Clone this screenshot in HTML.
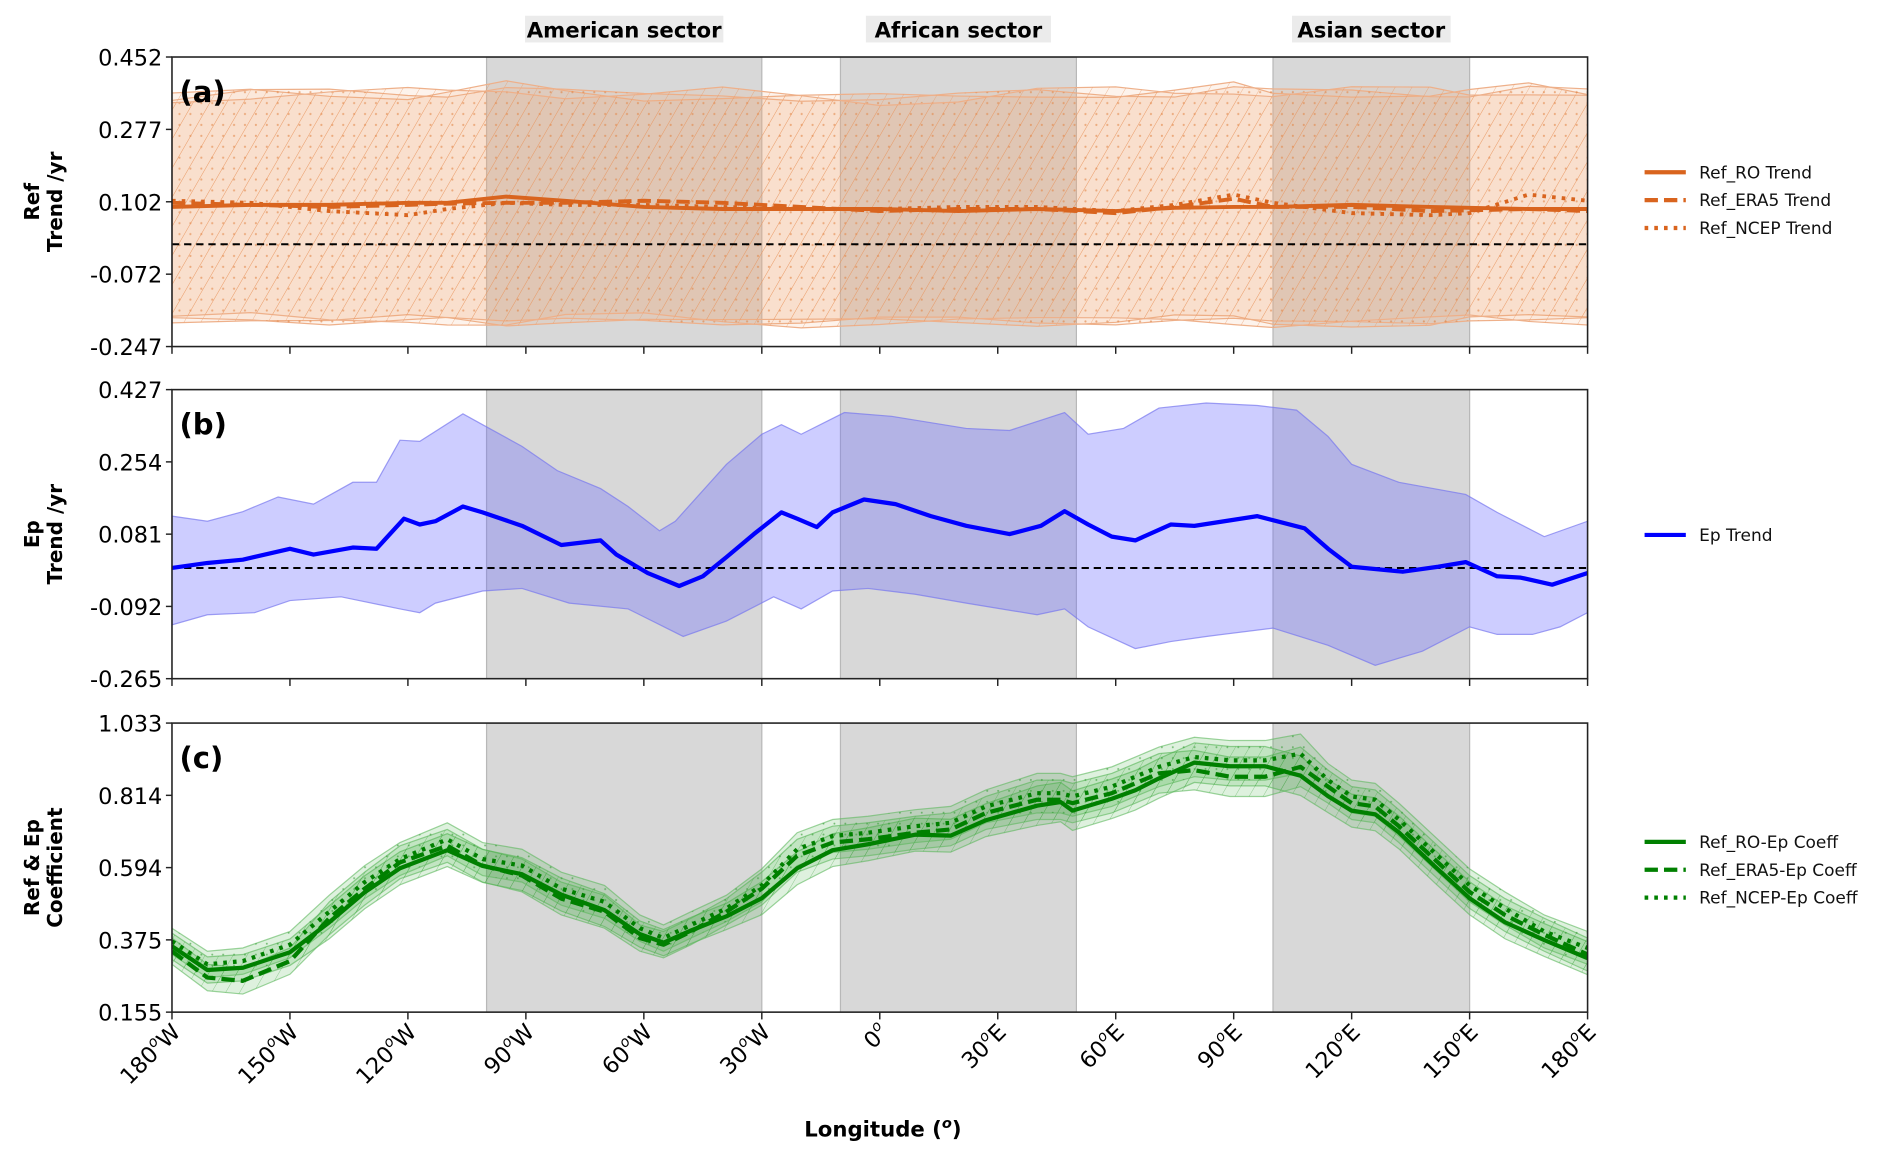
<!DOCTYPE html>
<html><head><meta charset="utf-8"><style>
html,body{margin:0;padding:0;background:#fff;}
svg{display:block;font-family:"DejaVu Sans","Liberation Sans",sans-serif;}
</style></head><body>
<svg id="chart" width="1892" height="1156" viewBox="0 0 1560 953" preserveAspectRatio="none" xmlns="http://www.w3.org/2000/svg">
<defs>
<pattern id="hatchO" patternUnits="userSpaceOnUse" width="12" height="12" patternTransform="rotate(30)"><line x1="0" y1="0" x2="0" y2="12" stroke="#e8925a" stroke-width="0.7" opacity="0.7"/></pattern>
<pattern id="dotsO" patternUnits="userSpaceOnUse" width="9" height="9"><circle cx="4" cy="4" r="0.9" fill="#e08040" opacity="0.6"/></pattern>
<pattern id="hatchG" patternUnits="userSpaceOnUse" width="10" height="10" patternTransform="rotate(30)"><line x1="0" y1="0" x2="0" y2="10" stroke="#2e9a2e" stroke-width="0.6" opacity="0.6"/></pattern>
<pattern id="dotsG" patternUnits="userSpaceOnUse" width="9" height="9"><circle cx="4" cy="4" r="0.8" fill="#2e9a2e" opacity="0.6"/></pattern>
</defs>
</svg>
<script>
// ---- data ----
const SECTORS = [[-100,-30,'American sector'],[-10,50,'African sector'],[100,150,'Asian sector']];
const XTICKS = [-180,-150,-120,-90,-60,-30,0,30,60,90,120,150,180];
const XTICK_LABELS = ['180','150','120','90','60','30','0','30','60','90','120','150','180'];
const XTICK_SUFFIX = ['W','W','W','W','W','W','','E','E','E','E','E','E'];
const TICKS_A = ['0.452','0.277','0.102','-0.072','-0.247'];
const TICKS_B = ['0.427','0.254','0.081','-0.092','-0.265'];
const TICKS_C = ['1.033','0.814','0.594','0.375','0.155'];

const LON_A = [-180,-160,-140,-120,-110,-95,-80,-60,-40,-20,0,20,40,60,75,90,100,120,140,150,165,180];
const REF_RO   = [0.090,0.095,0.095,0.100,0.100,0.115,0.105,0.090,0.085,0.085,0.085,0.080,0.085,0.080,0.088,0.090,0.090,0.095,0.090,0.088,0.085,0.085];
const REF_ERA5 = [0.100,0.095,0.090,0.095,0.098,0.100,0.100,0.105,0.100,0.090,0.080,0.085,0.085,0.075,0.090,0.110,0.090,0.090,0.080,0.082,0.085,0.080];
const REF_NCEP = [0.105,0.100,0.080,0.070,0.085,0.100,0.095,0.095,0.090,0.085,0.085,0.090,0.090,0.080,0.095,0.120,0.100,0.075,0.070,0.075,0.120,0.105];
const REF_UP   = [0.35,0.37,0.37,0.36,0.36,0.38,0.37,0.36,0.36,0.35,0.35,0.36,0.37,0.36,0.36,0.38,0.37,0.37,0.36,0.36,0.38,0.37];
const REF_LO   = [-0.18,-0.18,-0.19,-0.18,-0.18,-0.19,-0.18,-0.18,-0.19,-0.19,-0.18,-0.18,-0.19,-0.19,-0.18,-0.18,-0.19,-0.19,-0.19,-0.18,-0.18,-0.18];

const LON_B = [-180,-171,-162,-150,-144,-134,-128,-121,-117,-113,-106,-101,-91,-81,-71,-67,-59,-51,-45,-39,-32,-25,-21,-16,-12,-4,4,13,22,33,41,47,53,59,65,74,80,96,108,114,120,133,142,149,157,163,171,180];
const EP = [0.000,0.012,0.020,0.046,0.032,0.049,0.046,0.118,0.104,0.112,0.147,0.133,0.101,0.055,0.066,0.032,-0.012,-0.043,-0.020,0.026,0.081,0.133,0.118,0.098,0.133,0.164,0.153,0.124,0.101,0.081,0.101,0.136,0.104,0.075,0.066,0.104,0.101,0.124,0.095,0.046,0.003,-0.009,0.003,0.014,-0.020,-0.023,-0.040,-0.012];
const LON_BU = [-180,-171,-162,-153,-144,-134,-128,-122,-117,-106,-101,-91,-82,-71,-64,-56,-52,-39,-30,-25,-20,-9,3,22,33,47,53,62,71,83,96,106,114,120,132,149,157,169,180];
const EP_UP = [0.124,0.112,0.135,0.170,0.153,0.205,0.205,0.306,0.303,0.369,0.343,0.291,0.233,0.190,0.147,0.089,0.112,0.248,0.320,0.343,0.320,0.372,0.363,0.334,0.329,0.372,0.320,0.334,0.383,0.395,0.389,0.378,0.315,0.248,0.205,0.176,0.133,0.075,0.112];
const LON_BL = [-180,-171,-159,-150,-137,-122,-117,-113,-101,-91,-79,-64,-50,-39,-27,-20,-12,-3,9,22,40,47,53,65,74,83,100,114,126,138,150,157,166,173,180];
const EP_LO = [-0.136,-0.112,-0.107,-0.078,-0.069,-0.098,-0.107,-0.084,-0.055,-0.049,-0.084,-0.098,-0.164,-0.127,-0.069,-0.098,-0.055,-0.049,-0.063,-0.084,-0.112,-0.098,-0.141,-0.193,-0.176,-0.164,-0.144,-0.185,-0.233,-0.199,-0.141,-0.159,-0.159,-0.141,-0.107];

const LON_C = [-180,-171,-162,-150,-140,-131,-122,-110,-101,-91,-81,-70,-61,-55,-48,-39,-30,-21,-12,-3,9,18,27,40,46,49,59,65,71,80,89,98,107,114,120,126,132,141,150,159,169,180];
const CO_RO   = [0.355,0.283,0.290,0.337,0.428,0.519,0.592,0.647,0.599,0.574,0.512,0.465,0.392,0.366,0.403,0.446,0.501,0.592,0.647,0.665,0.694,0.691,0.738,0.782,0.793,0.767,0.803,0.829,0.865,0.913,0.902,0.902,0.873,0.811,0.767,0.756,0.701,0.599,0.501,0.428,0.374,0.319];
const CO_ERA5 = [0.340,0.260,0.250,0.310,0.440,0.530,0.610,0.660,0.600,0.570,0.500,0.460,0.380,0.360,0.400,0.460,0.530,0.630,0.670,0.680,0.700,0.710,0.760,0.800,0.800,0.790,0.820,0.850,0.880,0.890,0.870,0.870,0.900,0.840,0.790,0.780,0.720,0.620,0.520,0.450,0.390,0.330];
const CO_NCEP = [0.370,0.300,0.310,0.360,0.460,0.550,0.620,0.680,0.620,0.600,0.530,0.490,0.410,0.380,0.420,0.470,0.540,0.650,0.690,0.700,0.720,0.730,0.780,0.820,0.820,0.810,0.840,0.870,0.900,0.930,0.920,0.920,0.940,0.860,0.810,0.800,0.740,0.640,0.540,0.470,0.400,0.350];
const CO_SPREAD = [0.04,0.04,0.04,0.04,0.05,0.05,0.05,0.05,0.05,0.05,0.05,0.05,0.04,0.04,0.04,0.04,0.05,0.05,0.05,0.05,0.05,0.05,0.05,0.06,0.06,0.06,0.06,0.06,0.06,0.06,0.06,0.06,0.06,0.05,0.05,0.05,0.05,0.05,0.05,0.05,0.05,0.05];

// ---- layout ----
const NS='http://www.w3.org/2000/svg';
const svg=document.getElementById('chart');
const X0=141.8,X1=1309;
const xs=l=>X0+(l+180)/360*(X1-X0);
const panels=[
 {id:'a',top:47,bot:285.7,min:-0.247,max:0.452,ticks:TICKS_A,lab:['Ref','Trend /yr']},
 {id:'b',top:321.2,bot:559.5,min:-0.265,max:0.427,ticks:TICKS_B,lab:['Ep','Trend /yr']},
 {id:'c',top:596.1,bot:834.4,min:0.155,max:1.033,ticks:TICKS_C,lab:['Ref & Ep','Coefficient']}
];
function ys(p,v){return p.bot-(v-p.min)/(p.max-p.min)*(p.bot-p.top);}
function mk(tag,attrs,parent){const e=document.createElementNS(NS,tag);for(const k in attrs)e.setAttribute(k,attrs[k]);(parent||svg).appendChild(e);return e;}
function line(p,lons,vals){return lons.map((l,i)=>(i?'L':'M')+xs(l).toFixed(1)+','+ys(p,vals[i]).toFixed(1)).join('');}
function band(p,lu,vu,ll,vl){let d=line(p,lu,vu);for(let i=ll.length-1;i>=0;i--)d+='L'+xs(ll[i]).toFixed(1)+','+ys(p,vl[i]).toFixed(1);return d+'Z';}

// sector labels
SECTORS.forEach(s=>{
 const cx=(xs(s[0])+xs(s[1]))/2;
 const g=mk('g',{});
 
 
 const w=s[2].length*10.9;
 mk('rect',{x:cx-w/2,y:13,width:w,height:22,fill:'#ebebeb'},g);
 const t=mk('text',{x:cx,y:31,'text-anchor':'middle','font-size':17.5,'font-weight':'bold',fill:'#000'},g);
 t.textContent=s[2];
});

panels.forEach(p=>{
 const g=mk('g',{});
 
 
 const cp=mk('clipPath',{id:'clip'+p.id},g);
 mk('rect',{x:X0,y:p.top,width:X1-X0,height:p.bot-p.top},cp);
 const inner=mk('g',{'clip-path':'url(#clip'+p.id+')'},g);
 SECTORS.forEach(s=>{
  const r=mk('rect',{x:xs(s[0]),y:p.top,width:xs(s[1])-xs(s[0]),height:p.bot-p.top,fill:'#d8d8d8',stroke:'#b8b8b8','stroke-width':1},inner);
  
  
 });
 if(p.id==='a'){
  const offs=[[0.015,-0.01],[-0.005,0.005],[0.02,-0.015]];
  offs.forEach((o,k)=>{
   const up=REF_UP.map((v,i)=>v+o[0]*Math.cos(i*1.3+k));
   const lo=REF_LO.map((v,i)=>v+o[1]*Math.cos(i*1.1+k));
   const d=band(p,LON_A,up,LON_A,lo);
   const b=mk('path',{d:d,fill:'#f4a878','fill-opacity':0.14,stroke:'#eeb08a','stroke-width':1},inner);
   
   
   mk('path',{d:d,fill:k===1?'url(#dotsO)':'url(#hatchO)'},inner);
  });
  const z=mk('line',{x1:X0,x2:X1,y1:ys(p,0),y2:ys(p,0),stroke:'#000','stroke-width':1.6,'stroke-dasharray':'6,4'},inner);
  
  [[REF_RO,'','ref-ro-line'],[REF_ERA5,'11,5','ref-era5-line'],[REF_NCEP,'3,5','ref-ncep-line']].forEach(s=>{
   const l=mk('path',{d:line(p,LON_A,s[0]),fill:'none',stroke:'#d9641e','stroke-width':3.2,'stroke-dasharray':s[1]},inner);
   
  });
 }
 if(p.id==='b'){
  const b=mk('path',{d:band(p,LON_BU,EP_UP,LON_BL,EP_LO),fill:'#6666ff','fill-opacity':0.33,stroke:'#7777ee','stroke-width':1,'stroke-opacity':0.7},inner);
  
  const z=mk('line',{x1:X0,x2:X1,y1:ys(p,0),y2:ys(p,0),stroke:'#000','stroke-width':1.6,'stroke-dasharray':'6,4'},inner);
  
  const l=mk('path',{d:line(p,LON_B,EP),fill:'none',stroke:'#0000ff','stroke-width':3.5,'stroke-linejoin':'round'},inner);
  
 }
 if(p.id==='c'){
  [[CO_RO,'url(#hatchG)'],[CO_ERA5,'url(#hatchG)'],[CO_NCEP,'url(#dotsG)']].forEach(s=>{
   const up=s[0].map((v,i)=>v+CO_SPREAD[i]);
   const lo=s[0].map((v,i)=>v-CO_SPREAD[i]);
   const d=band(p,LON_C,up,LON_C,lo);
   const b=mk('path',{d:d,fill:'#33aa33','fill-opacity':0.16,stroke:'#5cb85c','stroke-width':1,'stroke-opacity':0.6},inner);
   
   mk('path',{d:d,fill:s[1]},inner);
  });
  [[CO_RO,'','coeff-ro-line'],[CO_ERA5,'11,5','coeff-era5-line'],[CO_NCEP,'3,5','coeff-ncep-line']].forEach(s=>{
   const l=mk('path',{d:line(p,LON_C,s[0]),fill:'none',stroke:'#008000','stroke-width':3.5,'stroke-dasharray':s[1],'stroke-linejoin':'round'},inner);
   
  });
 }
 const fr=mk('rect',{x:X0,y:p.top,width:X1-X0,height:p.bot-p.top,fill:'none',stroke:'#222','stroke-width':1.3},g);
 
 // y ticks
 p.ticks.forEach((t,i)=>{
  const y=p.top+i*(p.bot-p.top)/(p.ticks.length-1);
  mk('line',{x1:X0-5,x2:X0,y1:y,y2:y,stroke:'#222','stroke-width':1.2},g);
  const tx=mk('text',{x:X0-8,y:y+7,'text-anchor':'end','font-size':18.5,fill:'#000'},g);
  
  tx.textContent=t;
 });
 XTICKS.forEach(l=>mk('line',{x1:xs(l),x2:xs(l),y1:p.bot,y2:p.bot+6,stroke:'#222','stroke-width':1.2},g));
 const pl=mk('text',{x:148,y:p.top+37,'font-size':24,'font-weight':'bold',fill:'#000'},g);
 
 pl.textContent='('+p.id+')';
 const yc=(p.top+p.bot)/2;
 const yt=mk('text',{transform:'translate(36,'+yc+') rotate(-90)','text-anchor':'middle','font-size':16.5,'font-weight':'bold',fill:'#000'},g);
 
 const t1=mk('tspan',{x:0,dy:-4},yt);t1.textContent=p.lab[0];
 const t2=mk('tspan',{x:0,dy:19},yt);t2.textContent=p.lab[1];
});

// x tick labels (bottom)
XTICKS.forEach((l,i)=>{
 const t=mk('text',{transform:'translate('+(xs(l)+8)+',852) rotate(-45)','text-anchor':'end','font-size':18.5,fill:'#000'});
 
 t.appendChild(document.createTextNode(XTICK_LABELS[i]));
 const s=mk('tspan',{'font-size':12,dy:-8,'font-style':'italic'},t);s.textContent='o';
 const s2=mk('tspan',{dy:8},t);s2.textContent=XTICK_SUFFIX[i];
});
const xt=mk('text',{x:728,y:937,'text-anchor':'middle','font-size':17.5,'font-weight':'bold',fill:'#000'});

xt.appendChild(document.createTextNode('Longitude ('));
const xo=mk('tspan',{'font-size':12,dy:-7,'font-style':'italic'},xt);xo.textContent='o';
const xc=mk('tspan',{dy:7},xt);xc.textContent=')';

// legends
const LEG=[
 [[142,'#d9641e','','Ref_RO Trend'],[165,'#d9641e','11,5','Ref_ERA5 Trend'],[188,'#d9641e','3,5','Ref_NCEP Trend']],
 [[441,'#0000ff','','Ep Trend']],
 [[694,'#008000','','Ref_RO-Ep Coeff'],[717,'#008000','11,5','Ref_ERA5-Ep Coeff'],[740,'#008000','3,5','Ref_NCEP-Ep Coeff']]
];
LEG.forEach(grp=>grp.forEach(e=>{
 const g=mk('g',{});
 
 mk('line',{x1:1356,x2:1390,y1:e[0],y2:e[0],stroke:e[1],'stroke-width':3.5,'stroke-dasharray':e[2]},g);
 const t=mk('text',{x:1401,y:e[0]+5,'font-size':14,fill:'#111'},g);t.textContent=e[3];
}));
</script>
</body></html>
